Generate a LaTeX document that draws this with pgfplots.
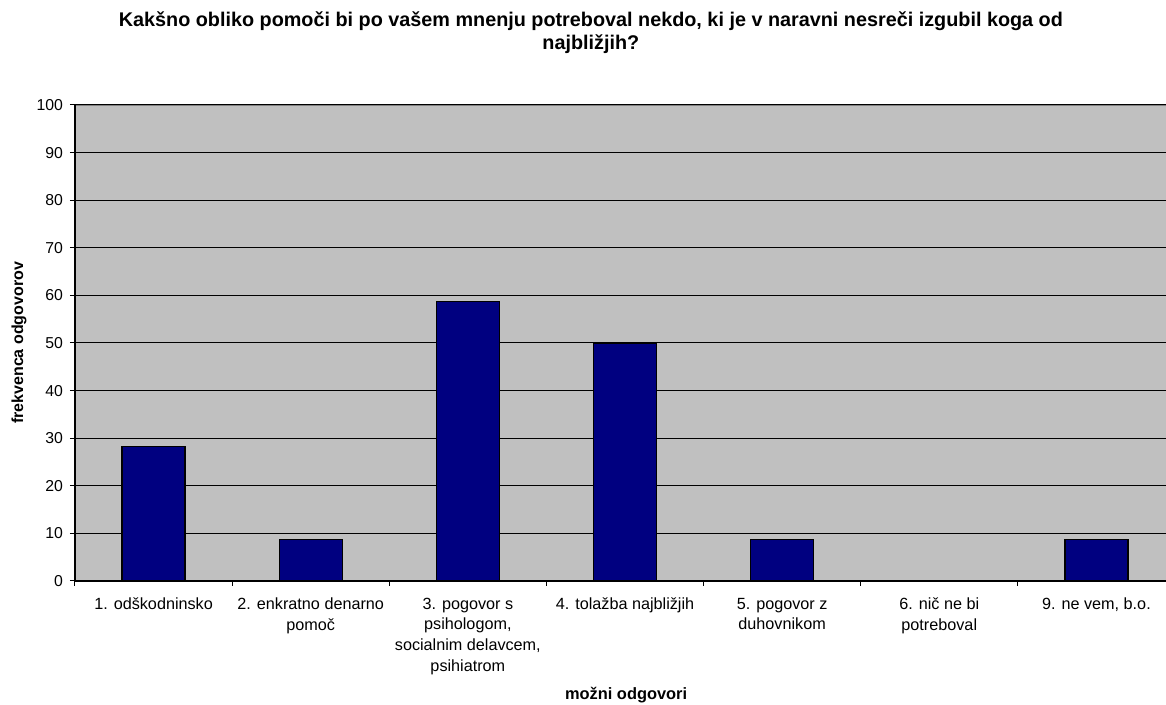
\documentclass[border=0pt]{standalone}
\usepackage{fontspec}
\setmainfont{Liberation Sans}
\usepackage{pgfplots}
\pgfplotsset{compat=1.18}
\definecolor{barblue}{RGB}{0,0,128}
\definecolor{plotgray}{RGB}{192,192,192}
\definecolor{bordergray}{RGB}{128,128,128}
\begin{document}
\begin{tikzpicture}
% 1 px of the reference = 0.5pt; axis lower left at (0,0)
\path[use as bounding box] (-37.5pt,-62pt) rectangle (545.5pt,290.5pt);
\begin{axis}[
  at={(0,0)}, anchor=south west,
  scale only axis,
  width=550pt, height=238pt,
  ybar, bar width=31.5pt,
  xmin=-0.5, xmax=6.5,
  ymin=0, ymax=100,
  ytick={0,10,...,100},
  xtick={-0.5,0.5,...,6.5},
  x tick label as interval,
  xticklabels={1. odškodninsko,2. enkratno denarno\\pomoč,{3. pogovor s\\psihologom,\\socialnim delavcem,\\psihiatrom},4. tolažba najbližjih,5. pogovor z\\duhovnikom,6. nič ne bi\\potreboval,{9. ne vem, b.o.}},
  xticklabel style={align=center, font=\fontsize{8.1}{10.3}\selectfont, yshift=-2.5pt},
  yticklabel style={font=\fontsize{7.9}{9}\selectfont},
  /pgf/number format/assume math mode=true,
  tick align=outside,
  major tick length=2.5pt,
  tick style={black, line width=0.5pt},
  axis x line*=bottom, axis y line*=left,
  axis line style={black, line width=0.6pt},
  axis background/.style={fill=plotgray, draw=bordergray, line width=1pt},
  ymajorgrids,
  grid style={black, line width=0.5pt},
  xlabel={možni odgovori},
  xlabel style={font=\bfseries\fontsize{8.2}{9}\selectfont, at={(axis description cs:0.501,-0.2395)}, anchor=center},
  ylabel={frekvenca odgovorov},
  ylabel style={font=\bfseries\fontsize{8}{9}\selectfont, at={(axis description cs:-0.0509,0.5)}, anchor=center},
  title={Kakšno obliko pomoči bi po vašem mnenju potreboval nekdo, ki je v naravni nesreči izgubil koga od\\najbližjih?},
  title style={font=\bfseries\fontsize{9.9}{11.5}\selectfont, align=center, at={(axis description cs:0.469,1.151)}, anchor=center, yshift=-6pt},
]
\addplot[fill=barblue, draw=black, line width=0.6pt] coordinates {
  (0,28.26) (1,8.70) (2,58.70) (3,50.00) (4,8.70) (5,0) (6,8.70)
};
\end{axis}
\end{tikzpicture}
\end{document}
